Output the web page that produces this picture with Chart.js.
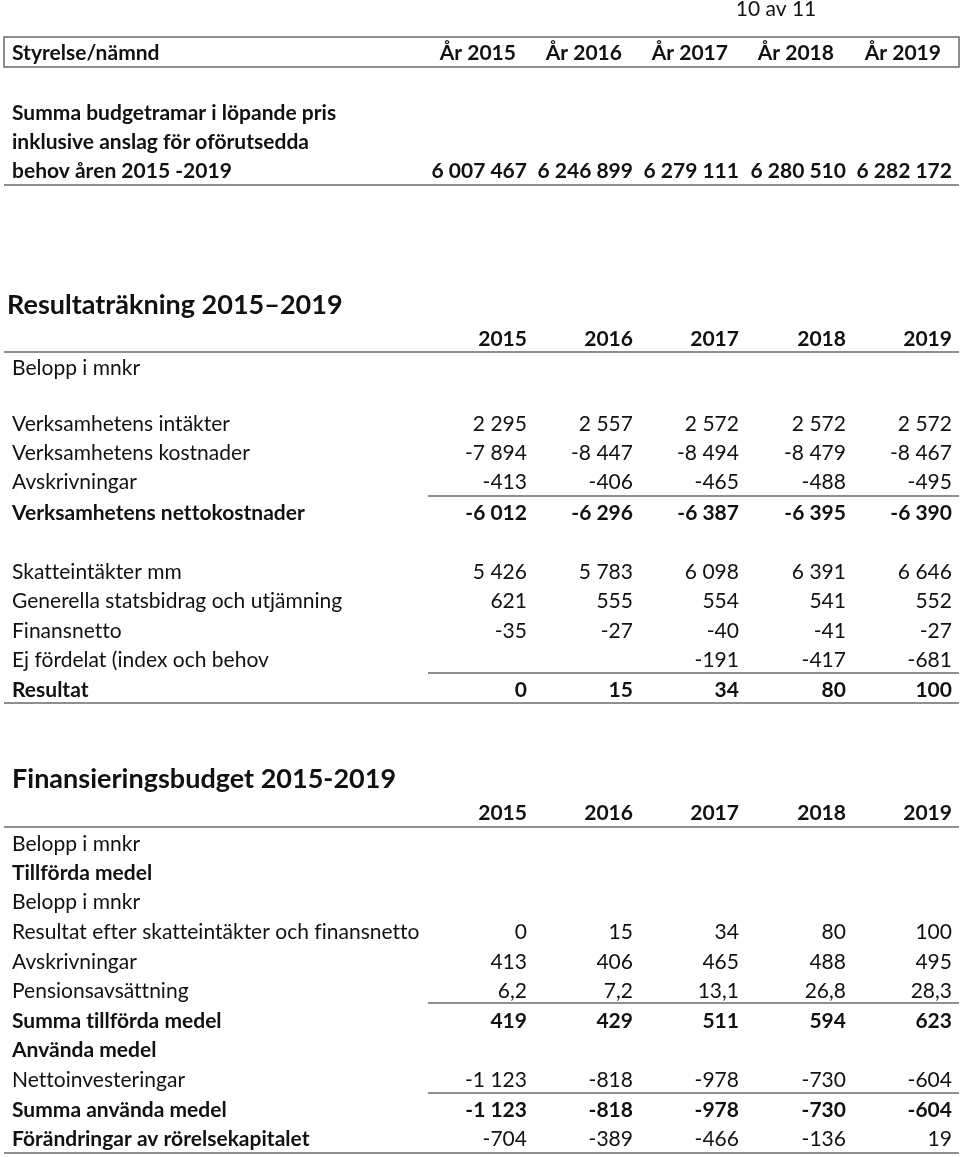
<!DOCTYPE html>
<html>
<head>
<meta charset="utf-8">
<script src="https://cdn.jsdelivr.net/npm/chart.js@4.4.1/dist/chart.umd.min.js"></script>
<style>
  html, body { margin: 0; padding: 0; background: #fff; }
  #wrap { width: 960px; height: 1157px; position: relative; }
</style>
</head>
<body>
<div id="wrap"><canvas id="c" width="960" height="1157"></canvas></div>
<script>
// ---------- DATA ----------
const pageLabel = '10 av 11';

const t1Header = ['Styrelse/nämnd', 'År 2015', 'År 2016', 'År 2017', 'År 2018', 'År 2019'];
const t1Label = ['Summa budgetramar i löpande pris', 'inklusive anslag för oförutsedda', 'behov åren 2015 -2019'];
const budgetramar = [6007467, 6246899, 6279111, 6280510, 6282172];

const t2Title = 'Resultaträkning 2015\u20132019';
const years = ['2015', '2016', '2017', '2018', '2019'];
const beloppLabel = 'Belopp i mnkr';
const t2Labels = [
  'Verksamhetens intäkter', 'Verksamhetens kostnader', 'Avskrivningar', 'Verksamhetens nettokostnader',
  'Skatteintäkter mm', 'Generella statsbidrag och utjämning', 'Finansnetto', 'Ej fördelat (index och behov', 'Resultat'
];
const intakter       = [2295, 2557, 2572, 2572, 2572];
const kostnader      = [-7894, -8447, -8494, -8479, -8467];
const avskrivningar  = [-413, -406, -465, -488, -495];
const nettokostnader = [-6012, -6296, -6387, -6395, -6390];
const skatteintakter = [5426, 5783, 6098, 6391, 6646];
const statsbidrag    = [621, 555, 554, 541, 552];
const finansnetto    = [-35, -27, -40, -41, -27];
const ejFordelat     = [null, null, -191, -417, -681];
const resultat       = [0, 15, 34, 80, 100];

const t3Title = 'Finansieringsbudget 2015-2019';
const t3Labels = [
  'Belopp i mnkr', 'Tillförda medel', 'Belopp i mnkr', 'Resultat efter skatteintäkter och finansnetto',
  'Avskrivningar', 'Pensionsavsättning', 'Summa tillförda medel', 'Använda medel',
  'Nettoinvesteringar', 'Summa använda medel', 'Förändringar av rörelsekapitalet'
];
const resultatEfter   = [0, 15, 34, 80, 100];
const avskrivningar2  = [413, 406, 465, 488, 495];
const pension         = [6.2, 7.2, 13.1, 26.8, 28.3];
const summaTillforda  = [419, 429, 511, 594, 623];
const nettoinv        = [-1123, -818, -978, -730, -604];
const summaAnvanda    = [-1123, -818, -978, -730, -604];
const forandringar    = [-704, -389, -466, -136, 19];

// ---------- FORMAT ----------
function fmt(v, dec) {
  if (v === null || v === undefined) return '';
  const neg = v < 0;
  const s = Math.abs(v).toFixed(dec || 0);
  const parts = s.split('.');
  const i = parts[0].replace(/\B(?=(\d{3})+(?!\d))/g, ' ');
  return (neg ? '-' : '') + i + (parts[1] ? ',' + parts[1] : '');
}

// ---------- LAYOUT / STYLE ----------
const FONT = 'Lato, "Open Sans", sans-serif';
const BODY = 21;
const colRight = [527, 633, 739, 846, 952];
const hdrRight = [516, 622, 728, 834, 941];
const labelX = 12;
const lineColor = '#6a6a6a';

// rows: [label, values, labelBold, valueBold, yCenter, decimals]
const t1Rows = [
  [t1Label[0], null, true, true, 113],
  [t1Label[1], null, true, true, 142],
  [t1Label[2], budgetramar, true, true, 171]
];
const t2Rows = [
  [beloppLabel, null, false, false, 368],
  [t2Labels[0], intakter, false, false, 424],
  [t2Labels[1], kostnader, false, false, 453],
  [t2Labels[2], avskrivningar, false, false, 482],
  [t2Labels[3], nettokostnader, true, true, 513],
  [t2Labels[4], skatteintakter, false, false, 572],
  [t2Labels[5], statsbidrag, false, false, 601],
  [t2Labels[6], finansnetto, false, false, 631],
  [t2Labels[7], ejFordelat, false, false, 660],
  [t2Labels[8], resultat, true, true, 690]
];
const t3Rows = [
  [t3Labels[0], null, false, false, 844],
  [t3Labels[1], null, true, true, 873],
  [t3Labels[2], null, false, false, 902],
  [t3Labels[3], resultatEfter, false, false, 932],
  [t3Labels[4], avskrivningar2, false, false, 962],
  [t3Labels[5], pension, false, false, 991, 1],
  [t3Labels[6], summaTillforda, true, true, 1021],
  [t3Labels[7], null, true, true, 1050],
  [t3Labels[8], nettoinv, false, false, 1080],
  [t3Labels[9], summaAnvanda, true, true, 1110],
  [t3Labels[10], forandringar, true, false, 1139]
];
// lines: [y, x0, x1]
const hLines = [
  [185, 4, 959], [352, 4, 959], [496, 428, 959], [673, 428, 959], [703, 4, 959],
  [827, 4, 959], [1003, 428, 959], [1093, 428, 959], [1153, 4, 959]
];

const tablePlugin = {
  id: 'tables',
  afterDraw(chart) {
    const ctx = chart.ctx;
    const X = chart.scales.x, Y = chart.scales.y;
    const px = v => X.getPixelForValue(v);
    const py = v => Y.getPixelForValue(v);
    ctx.save();
    ctx.fillStyle = '#fff';
    ctx.fillRect(0, 0, chart.width, chart.height);
    ctx.textBaseline = 'middle';
    ctx.fillStyle = '#111';
    if ('letterSpacing' in ctx) ctx.letterSpacing = '0.01px';
    const text = (s, x, y, size, bold, align) => {
      ctx.font = (bold ? 'bold ' : '') + size + 'px ' + FONT;
      ctx.textAlign = align || 'left';
      ctx.fillText(s, px(x), py(y));
    };
    // page number
    text(pageLabel, 776, 9, BODY, false, 'center');
    // table 1 header box
    ctx.strokeStyle = lineColor;
    ctx.lineWidth = 1.5;
    ctx.strokeRect(px(4), py(37), px(959) - px(4), py(67) - py(37));
    text(t1Header[0], labelX, 53, BODY, true, 'left');
    for (let i = 0; i < 5; i++) text(t1Header[i + 1], hdrRight[i], 53, BODY, true, 'right');
    const drawRows = rows => {
      rows.forEach(r => {
        text(r[0], labelX, r[4], BODY, r[2], 'left');
        if (r[1]) r[1].forEach((v, i) => text(fmt(v, r[5]), colRight[i], r[4], BODY, r[3], 'right'));
      });
    };
    drawRows(t1Rows);
    // table 2
    text(t2Title, 7, 305, 27, true, 'left');
    years.forEach((yv, i) => text(yv, colRight[i], 339, BODY, true, 'right'));
    drawRows(t2Rows);
    // table 3
    text(t3Title, 12, 779, 27, true, 'left');
    years.forEach((yv, i) => text(yv, colRight[i], 813, BODY, true, 'right'));
    drawRows(t3Rows);
    // lines
    ctx.strokeStyle = lineColor;
    ctx.lineWidth = 1.5;
    hLines.forEach(l => {
      ctx.beginPath();
      ctx.moveTo(px(l[1]), py(l[0]));
      ctx.lineTo(px(l[2]), py(l[0]));
      ctx.stroke();
    });
    ctx.restore();
  }
};

new Chart(document.getElementById('c').getContext('2d'), {
  type: 'scatter',
  data: { datasets: [] },
  options: {
    responsive: false,
    animation: false,
    devicePixelRatio: 1,
    layout: { padding: 0 },
    plugins: { legend: { display: false }, tooltip: { enabled: false }, title: { display: false } },
    scales: {
      x: { type: 'linear', min: 0, max: 960, display: false },
      y: { type: 'linear', min: 0, max: 1157, reverse: true, display: false }
    }
  },
  plugins: [tablePlugin]
});
</script>
</body>
</html>
